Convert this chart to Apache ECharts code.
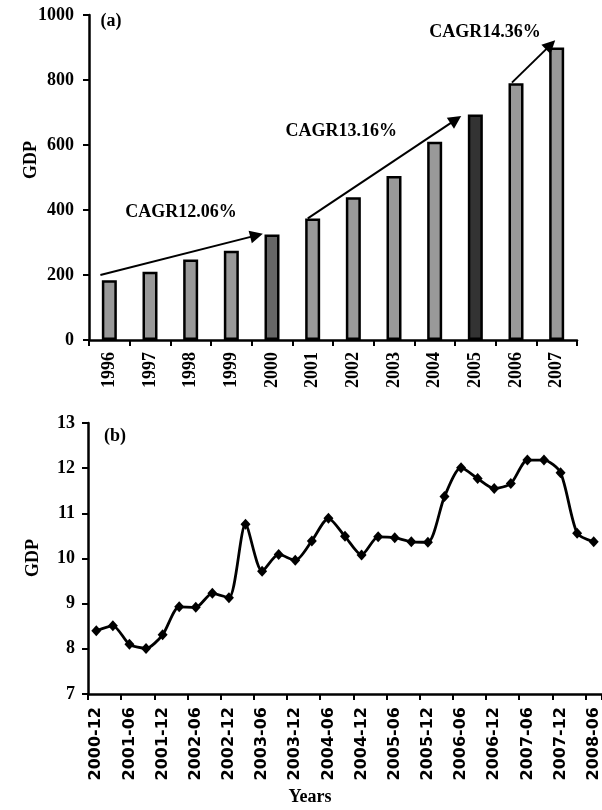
<!DOCTYPE html>
<html>
<head>
<meta charset="utf-8">
<script src="https://cdn.jsdelivr.net/npm/echarts@6/dist/echarts.min.js"></script>
<style>
  html, body { margin: 0; padding: 0; background: #fff; }
  #chart { width: 602px; height: 810px; }
</style>
</head>
<body>
<div id="chart"></div>
<script>
// Panel (a): annual GDP
const years = ['1996', '1997', '1998', '1999', '2000', '2001', '2002', '2003', '2004', '2005', '2006', '2007'];
const annualGdp = [184, 210, 248, 275, 325, 374, 439, 505, 610, 694, 790, 900];
const annualTicks = { min: 0, max: 1000, step: 200 };

// Growth arrows: [startIndex, startValue, endIndex, endValue] on the year axis
const growthArrows = [
  [-0.22, 200, 3.62, 322],
  [4.88, 374, 8.52, 678],
  [9.9, 792, 10.85, 908]
];
const growthLabels = ['CAGR12.06%', 'CAGR13.16%', 'CAGR14.36%'];
const growthLabelAt = [[1.76, 394], [5.7, 643], [9.24, 948]];

// Panel (b): quarterly GDP
const quarters = [
  '2000-12', '2001-03', '2001-06', '2001-09', '2001-12', '2002-03', '2002-06', '2002-09',
  '2002-12', '2003-03', '2003-06', '2003-09', '2003-12', '2004-03', '2004-06', '2004-09',
  '2004-12', '2005-03', '2005-06', '2005-09', '2005-12', '2006-03', '2006-06', '2006-09',
  '2006-12', '2007-03', '2007-06', '2007-09', '2007-12', '2008-03', '2008-06'
];
const quarterlyGdp = [
  8.40, 8.51, 8.10, 8.01, 8.31, 8.93, 8.92, 9.23,
  9.13, 10.76, 9.72, 10.09, 9.96, 10.39, 10.89, 10.49,
  10.08, 10.48, 10.46, 10.37, 10.36, 11.37, 12.01, 11.77,
  11.55, 11.66, 12.18, 12.18, 11.90, 10.56, 10.37
];
const quarterlyTicks = { min: 7, max: 13, step: 1 };

// Bars drawn in a darker fill
const barShade = { '2000': '#666666', '2005': '#333333' };

const serif = 'Liberation Serif, Times New Roman, serif';
const sans = 'DejaVu Sans, Arial, sans-serif';
const axisLine = { show: true, onZero: false, lineStyle: { color: '#000', width: 2.5 } };
const axisTick = { show: true, inside: false, length: 6, lineStyle: { color: '#000', width: 2 } };

const chart = echarts.init(document.getElementById('chart'), null, { renderer: 'canvas' });

const option = {
  backgroundColor: '#fff',
  animation: false,
  grid: [
    { left: 89, top: 15, width: 488, height: 325 },
    { left: 88, top: 423, width: 516, height: 271 }
  ],
  xAxis: [
    {
      type: 'category', gridIndex: 0, data: years, boundaryGap: true,
      axisLine, axisTick: Object.assign({}, axisTick, { alignWithLabel: false }),
      axisLabel: { rotate: 90, margin: 12, color: '#000', fontFamily: serif, fontWeight: 'bold', fontSize: 18 }
    },
    {
      type: 'value', gridIndex: 0, min: -0.5, max: 11.5, show: false
    },
    {
      type: 'category', gridIndex: 1, data: quarters, boundaryGap: true,
      axisLine, axisTick: Object.assign({}, axisTick, { interval: 1 }),
      axisLabel: { rotate: 90, interval: 1, margin: 13, color: '#000', fontFamily: sans, fontWeight: 'bold', fontSize: 16 }
    }
  ],
  yAxis: [
    {
      type: 'value', gridIndex: 0, min: annualTicks.min, max: annualTicks.max, interval: annualTicks.step,
      axisLine, axisTick, splitLine: { show: false },
      axisLabel: { margin: 15, color: '#000', fontFamily: serif, fontWeight: 'bold', fontSize: 18, formatter: v => String(v) }
    },
    {
      type: 'value', gridIndex: 1, min: quarterlyTicks.min, max: quarterlyTicks.max, interval: quarterlyTicks.step,
      axisLine, axisTick, splitLine: { show: false },
      axisLabel: { margin: 13, color: '#000', fontFamily: serif, fontWeight: 'bold', fontSize: 18 }
    }
  ],
  series: [
    {
      type: 'bar', xAxisIndex: 0, yAxisIndex: 0, barWidth: 15,
      data: annualGdp.map((v, i) => ({
        value: v,
        itemStyle: { color: barShade[years[i]] || '#999999' }
      })),
      itemStyle: { borderColor: '#000', borderWidth: 2.5 }
    },
    {
      type: 'line', xAxisIndex: 1, yAxisIndex: 0, data: [], silent: true,
      markLine: {
        silent: true, animation: false,
        symbol: ['none', 'triangle'], symbolSize: 13,
        lineStyle: { color: '#000', width: 2, type: 'solid' },
        itemStyle: { color: '#000' },
        label: { show: false },
        data: growthArrows.map(a => [{ coord: [a[0], a[1]] }, { coord: [a[2], a[3]] }])
      },
      markPoint: {
        silent: true, animation: false, symbolSize: 0,
        label: { show: true, position: 'inside', color: '#000', fontFamily: serif, fontWeight: 'bold', fontSize: 18 },
        data: growthLabelAt.map((p, i) => ({ coord: p, value: growthLabels[i], label: { formatter: growthLabels[i] } }))
      }
    },
    {
      type: 'line', xAxisIndex: 2, yAxisIndex: 1, data: quarterlyGdp,
      smooth: 0.25,
      symbol: 'diamond', symbolSize: [10, 11],
      lineStyle: { color: '#000', width: 2.8 },
      itemStyle: { color: '#000' }
    }
  ],
  graphic: [
    { type: 'text', x: 31, y: 160, rotation: Math.PI / 2, style: { text: 'GDP', font: 'bold 18px ' + serif, fill: '#000', align: 'center', verticalAlign: 'middle' } },
    { type: 'text', x: 33, y: 558, rotation: Math.PI / 2, style: { text: 'GDP', font: 'bold 18px ' + serif, fill: '#000', align: 'center', verticalAlign: 'middle' } },
    { type: 'text', x: 111, y: 21, style: { text: '(a)', font: 'bold 18px ' + serif, fill: '#000', align: 'center', verticalAlign: 'middle' } },
    { type: 'text', x: 115, y: 436, style: { text: '(b)', font: 'bold 18px ' + serif, fill: '#000', align: 'center', verticalAlign: 'middle' } },
    { type: 'text', x: 310, y: 797, style: { text: 'Years', font: 'bold 18px ' + serif, fill: '#000', align: 'center', verticalAlign: 'middle' } }
  ]
};

chart.setOption(option);
</script>
</body>
</html>
